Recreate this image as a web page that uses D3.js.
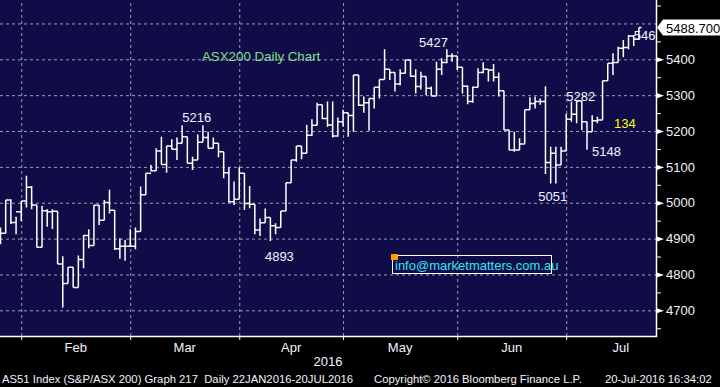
<!DOCTYPE html>
<html>
<head>
<meta charset="utf-8">
<script src="https://cdn.jsdelivr.net/npm/d3@7"></script>
<style>
  body { margin: 0; background: #000; }
  svg text { font-family: "Liberation Sans", Arial, sans-serif; }
</style>
</head>
<body>
<div id="chart"></div>
<script>
// Daily OHLC bars, AS51 Index, 25 Jan - 20 Jul 2016
const open = [4890,4915,5008,4945,4975,5005,5043,4994,4876,4978,
  4975,4976,4829,4775,4820,4764,4842,4909,4881,4993,
  4951,5001,4979,4872,4879,4879,4879,4920,5022,5082,
  5089,5144,5107,5158,5149,5166,5184,5110,5119,5169,
  5182,5152,5166,5142,5084,5003,5010,5082,4998,4996,
  4924,4944,4959,4936,4931,4977,5056,5119,5158,5138,
  5188,5216,5273,5235,5217,5186,5226,5251,5243,5356,
  5272,5279,5291,5322,5344,5372,5363,5331,5361,5398,
  5353,5324,5352,5319,5298,5372,5391,5409,5409,5378,
  5325,5282,5322,5363,5372,5370,5350,5312,5203,5147,
  5147,5164,5259,5277,5282,5282,5112,5138,5105,5144,
  5233,5247,5284,5226,5198,5229,5231,5340,5389,5391,
  5431,5433,5465,5456];
const high = [4931,5008,5010,4961,5005,5075,5047,4994,4991,4982,
  4982,4976,4851,4820,4820,4853,4910,4926,4994,4994,
  5008,5036,4979,4901,4896,4926,4931,5045,5082,5105,
  5152,5184,5158,5177,5182,5216,5184,5128,5190,5216,
  5198,5182,5166,5142,5099,5059,5099,5082,5047,4996,
  4956,4984,4959,4943,4977,5056,5119,5158,5158,5217,
  5233,5279,5273,5282,5282,5238,5259,5251,5356,5356,
  5296,5291,5322,5344,5428,5372,5363,5372,5398,5398,
  5372,5365,5352,5324,5393,5403,5428,5417,5409,5378,
  5328,5324,5375,5392,5372,5387,5363,5312,5203,5198,
  5180,5259,5294,5296,5291,5325,5156,5156,5156,5248,
  5282,5284,5284,5226,5244,5240,5340,5389,5417,5435,
  5454,5468,5468,5489];
const low = [4884,4915,4941,4912,4949,4987,4982,4876,4876,4933,
  4927,4829,4708,4775,4764,4764,4817,4873,4881,4938,
  4951,4970,4868,4844,4838,4877,4870,4920,5022,5087,
  5089,5107,5084,5149,5119,5166,5110,5091,5119,5170,
  5152,5152,5127,5068,5000,4994,5010,4980,4985,4912,
  4907,4944,4893,4912,4931,4977,5056,5114,5121,5138,
  5186,5216,5233,5212,5182,5184,5212,5184,5198,5270,
  5251,5201,5263,5291,5344,5342,5310,5328,5361,5352,
  5305,5316,5300,5298,5298,5356,5389,5393,5370,5305,
  5275,5279,5322,5361,5338,5338,5296,5203,5147,5142,
  5147,5164,5259,5263,5273,5080,5054,5054,5105,5144,
  5226,5222,5203,5148,5198,5222,5231,5340,5356,5391,
  5406,5428,5437,5454];
const close = [4915,5008,4945,4975,5005,5043,4994,4876,4978,4975,
  4976,4829,4775,4820,4764,4842,4909,4881,4993,4951,
  5001,4979,4872,4879,4879,4879,4920,5022,5082,5089,
  5144,5107,5158,5149,5166,5184,5110,5119,5169,5182,
  5152,5166,5142,5084,5003,5010,5082,4998,4996,4924,
  4944,4959,4936,4931,4977,5056,5119,5158,5138,5188,
  5216,5273,5235,5217,5186,5226,5251,5243,5356,5272,
  5279,5291,5322,5344,5372,5363,5331,5361,5398,5353,
  5324,5352,5319,5298,5372,5391,5409,5409,5378,5325,
  5282,5322,5363,5372,5370,5350,5312,5203,5147,5147,
  5164,5259,5277,5282,5282,5112,5138,5105,5144,5233,
  5247,5284,5226,5198,5229,5231,5340,5389,5391,5431,
  5433,5465,5456,5488.7];

// month boundaries, as bar indices
const months = ["Feb", "Mar", "Apr", "May", "Jun", "Jul"];
const monthStart = [4, 25, 46, 66, 88, 109];
const monthEnd = [25, 46, 66, 88, 109, 130];

const yGrid = [4700, 4800, 4900, 5000, 5100, 5200, 5300, 5400, 5500];
const yLabels = [4700, 4800, 4900, 5000, 5100, 5200, 5300, 5400];
const yMinor = [4650, 4750, 4850, 4950, 5050, 5150, 5250, 5350, 5450, 5550];
const lastPrice = 5488.7;

// high/low call-outs: text, bar index, price
const notes = [
  ["5216", 38, 5216], ["4893", 52, 4893], ["5427", 86, 5427],
  ["5051", 106, 5051], ["5282", 109, 5282], ["5148", 113, 5148],
  ["5460", 122, 5460]
];

const W = 720, H = 387;
const plotW = 656, plotH = 336;

const x = d3.scaleLinear().domain([0, 123]).range([0.5, 638.9]);
const y = d3.scaleLinear().domain([4628.4, 5565.4]).range([plotH, 0]);

const svg = d3.select('#chart').append('svg')
  .attr('width', W).attr('height', H);

svg.append('rect').attr('width', W).attr('height', H).attr('fill', '#000');
svg.append('rect').attr('width', plotW).attr('height', plotH).attr('fill', '#0f0c47');

svg.append('clipPath').attr('id', 'plot')
  .append('rect').attr('width', plotW).attr('height', plotH);

// grid
svg.append('g')
  .attr('class', 'grid')
  .call(d3.axisLeft(y).tickValues(yGrid).tickSize(-plotW).tickFormat(''))
  .call(g => g.select('.domain').remove());
svg.append('g')
  .attr('class', 'grid')
  .attr('transform', 'translate(0,' + plotH + ')')
  .call(d3.axisBottom(x).tickValues(monthStart).tickSize(plotH).tickFormat(''))
  .call(g => g.select('.domain').remove())
  .call(g => g.selectAll('.tick line').attr('y2', -plotH));
svg.selectAll('.grid .tick line')
  .attr('stroke', '#9c9cb4')
  .attr('stroke-width', 1)
  .attr('stroke-dasharray', '3,3');

// bars
const bars = svg.append('g').attr('clip-path', 'url(#plot)')
  .attr('stroke', '#fff').attr('stroke-width', 1.5).attr('fill', 'none');
const idx = d3.range(close.length);
const tw = 2.6;
bars.selectAll('path').data(idx).join('path')
  .attr('d', i => {
    const xi = x(i);
    return 'M' + xi + ',' + y(high[i]) + 'V' + y(low[i]) +
      'M' + (xi - tw) + ',' + y(open[i]) + 'H' + xi +
      'M' + xi + ',' + y(close[i]) + 'H' + (xi + tw);
  });

// call-outs
const noteOffsets = {
  "5216": [-1, -3, 'middle'], "4893": [9, 20, 'middle'], "5427": [1, -3, 'end'],
  "5051": [2, 17, 'middle'], "5282": [0, -1, 'start'], "5148": [5, 6, 'start'],
  "5460": [0, 2, 'start']
};
const ann = svg.append('g').attr('clip-path', 'url(#plot)');
ann.selectAll('text').data(notes).join('text')
  .attr('x', d => x(d[1]) + noteOffsets[d[0]][0])
  .attr('y', d => y(d[2]) + noteOffsets[d[0]][1])
  .attr('text-anchor', d => noteOffsets[d[0]][2])
  .attr('fill', '#f2f2ff')
  .attr('font-size', 13)
  .text(d => d[0]);

ann.append('text')
  .attr('x', 614).attr('y', 128)
  .attr('fill', '#ffff00').attr('font-size', 13)
  .text('134');

svg.append('text')
  .attr('x', 202).attr('y', 61)
  .attr('fill', '#80e08a').attr('font-size', 13.3)
  .text('ASX200 Daily Chart');

// email box
svg.append('rect')
  .attr('x', 392.5).attr('y', 255.5).attr('width', 159).attr('height', 18)
  .attr('fill', 'none').attr('stroke', '#fff').attr('stroke-width', 1);
svg.append('text')
  .attr('x', 395).attr('y', 270)
  .attr('fill', '#2ee6f6').attr('font-size', 13)
  .text('info@marketmatters.com.au');
svg.append('rect')
  .attr('x', 391).attr('y', 254).attr('width', 7).attr('height', 6)
  .attr('fill', '#ff9a00');

// right axis
const yAxis = svg.append('g')
  .attr('transform', 'translate(' + plotW + ',0)')
  .call(d3.axisRight(y).tickValues(yLabels).tickSize(0).tickPadding(10).tickFormat(d3.format('d')));
yAxis.select('.domain').remove();
yAxis.selectAll('.tick text')
  .attr('fill', '#f2f2ff').attr('font-size', 13).attr('font-family', '"Liberation Sans", Arial, sans-serif');
yAxis.selectAll('.tick').append('path')
  .attr('d', 'M0,-2.8L8,0L0,2.8Z').attr('fill', '#fff');

svg.append('g')
  .attr('transform', 'translate(' + plotW + ',0)')
  .call(d3.axisRight(y).tickValues(yMinor).tickSize(5).tickFormat(''))
  .call(g => g.select('.domain').remove())
  .call(g => g.selectAll('.tick line').attr('stroke', '#fff'));

// last price flag
const ly = y(lastPrice);
svg.append('path')
  .attr('d', 'M657,' + ly + 'L663,' + (ly - 8) + 'H720V' + (ly + 8) + 'H663Z')
  .attr('fill', '#fff');
svg.append('text')
  .attr('x', 666).attr('y', ly + 5)
  .attr('fill', '#000').attr('font-size', 13)
  .text(d3.format('.3f')(lastPrice));

// bottom axis
const xAxis = svg.append('g')
  .attr('transform', 'translate(0,' + plotH + ')')
  .call(d3.axisBottom(x).tickValues(monthStart).tickSize(4).tickFormat(''));
xAxis.select('.domain').remove();
xAxis.selectAll('.tick line').attr('stroke', '#fff');

svg.append('g').selectAll('text').data(months).join('text')
  .attr('x', (d, i) => x((monthStart[i] + monthEnd[i]) / 2))
  .attr('y', 351.5)
  .attr('text-anchor', 'middle')
  .attr('fill', '#f2f2ff').attr('font-size', 13)
  .text(d => d);

svg.append('text')
  .attr('x', 328).attr('y', 366).attr('text-anchor', 'middle')
  .attr('fill', '#f2f2ff').attr('font-size', 13)
  .text('2016');

// axis lines
svg.append('path')
  .attr('d', 'M0,' + (plotH + 0.5) + 'H' + (plotW + 0.5) + 'V0')
  .attr('stroke', '#fff').attr('stroke-width', 1.5).attr('fill', 'none');

// footer
const foot = svg.append('g').attr('fill', '#f2f2ff').attr('font-size', 11.3);
foot.append('text').attr('x', 2).attr('y', 383)
  .text('AS51 Index (S&P/ASX 200) Graph 217  Daily 22JAN2016-20JUL2016')
  .attr('xml:space', 'preserve');
foot.append('text').attr('x', 374).attr('y', 383)
  .text('Copyright\u00a9 2016 Bloomberg Finance L.P.');
foot.append('text').attr('x', 605).attr('y', 383)
  .text('20-Jul-2016 16:34:02');
</script>
</body>
</html>
